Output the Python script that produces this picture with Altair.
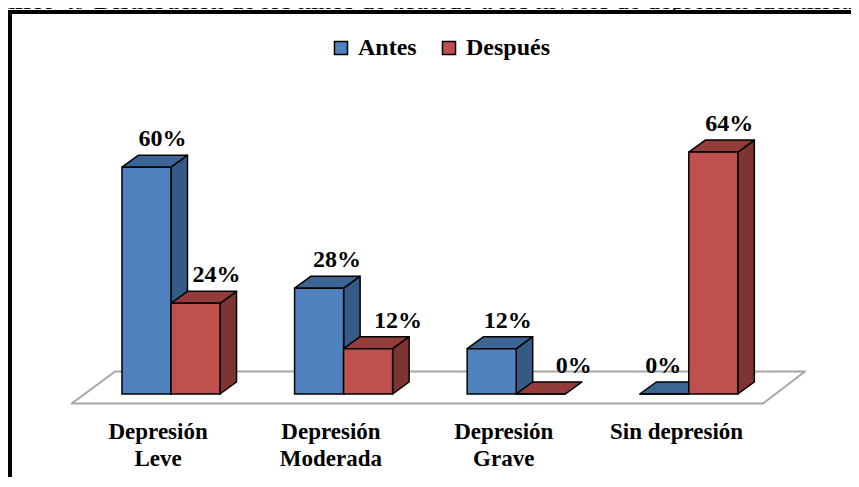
import altair as alt
import pandas as pd

# ---------------- data ----------------
categories = ["Depresión Leve", "Depresión Moderada", "Depresión Grave", "Sin depresión"]
tick_labels = ["Depresión\nLeve", "Depresión\nModerada", "Depresión\nGrave", "Sin depresión"]
series = ["Antes", "Después"]
antes = [60, 28, 12, 0]
despues = [24, 12, 0, 64]
caption_bold = "Gráfico 4."
caption_rest = " / Distribución de los niños de acuerdo a los niveles de depresión identificados"

# ---------------- style / layout ----------------
W, H = 843, 469
X_DOMAIN = [-0.9444, 3.9397]          # category units
Y_DOMAIN = [-21.96, 102.12]           # percent units
PX_PER_X = W / (X_DOMAIN[1] - X_DOMAIN[0])
BAR_W = 0.284
DEPTH_X = 0.0956
DEPTH_Y = 3.17
FLOOR_FRONT = (-0.5753, 3.4299, -2.51)
FLOOR_BACK = (-0.3244, 3.6732, 5.95)
CAT_LABEL_Y = -11.9
LABEL_DX = {"Antes": [16, 18, 16, -1], "Después": [21, 30, 33, 16]}

BLUE, BLUE_TOP, BLUE_SIDE = "#4F81BD", "#3C6595", "#355A84"
RED, RED_TOP, RED_SIDE = "#C0504D", "#933D3A", "#7D3432"
FONT = "Liberation Serif"

xs = alt.Scale(domain=X_DOMAIN, nice=False, zero=False)
ys = alt.Scale(domain=Y_DOMAIN, nice=False, zero=False)

values = {"Antes": antes, "Después": despues}
fronts, tops, sides = [], [], []
for i, cat in enumerate(categories):
    for s, name in enumerate(series):
        h = values[name][i]
        x0 = i - BAR_W + s * BAR_W
        x1 = x0 + BAR_W
        fronts.append(dict(cat=cat, series=name, x0=x0, x1=x1, base=0, h=h,
                           lx=(x0 + x1) / 2 + LABEL_DX[name][i] / PX_PER_X,
                           label=f"{h}%"))
        fid = f"{i}-{s}"
        for (xx, ya, yb) in [(x0, h, h), (x0 + DEPTH_X, h, h + DEPTH_Y),
                             (x1, h, h + DEPTH_Y), (x1 + DEPTH_X, h + DEPTH_Y, h + DEPTH_Y)]:
            tops.append(dict(face=fid, series=name, x=xx, y=ya, y2=yb))
        for (xx, ya, yb) in [(x1, 0, h), (x1 + DEPTH_X, DEPTH_Y, h + DEPTH_Y)]:
            sides.append(dict(face=fid, series=name, x=xx, y=ya, y2=yb))

fronts = pd.DataFrame(fronts)
tops = pd.DataFrame(tops)
sides = pd.DataFrame(sides)

fl, fr, fy = FLOOR_FRONT
bl, br, by = FLOOR_BACK
floor = pd.DataFrame(dict(face=["floor"] * 4, x=[fl, bl, fr, br],
                          y=[fy, fy, fy, by], y2=[fy, by, by, by]))

seg = (fr - fl) / len(categories)
cats = pd.DataFrame(dict(label=tick_labels,
                         x=[fl + (i + 0.5) * seg for i in range(len(categories))],
                         y=[CAT_LABEL_Y] * len(categories)))

one = pd.DataFrame({"a": [0]})


def poly_layer(df, fill, stroke, width):
    return alt.Chart(df).mark_area(
        orient="vertical", fill=fill, stroke=stroke, strokeWidth=width,
        strokeJoin="round", opacity=1, fillOpacity=1).encode(
        x=alt.X("x:Q", scale=xs, axis=None),
        y=alt.Y("y:Q", scale=ys, axis=None, stack=False),
        y2="y2:Q",
        detail="face:N")


floor_layer = poly_layer(floor, "white", "#A6A6A6", 2)

front_layer = alt.Chart(fronts).mark_rect(stroke="black", strokeWidth=1.5, opacity=1).encode(
    x=alt.X("x0:Q", scale=xs, axis=None), x2="x1:Q",
    y=alt.Y("base:Q", scale=ys, axis=None), y2="h:Q",
    color=alt.Color("series:N", scale=alt.Scale(domain=series, range=[BLUE, RED]),
                    legend=alt.Legend(title=None, orient="none", legendX=321, legendY=28,
                                      direction="horizontal", symbolType="square",
                                      symbolSize=170, symbolStrokeColor="black",
                                      symbolStrokeWidth=1.5, symbolOpacity=1,
                                      labelFont=FONT, labelFontSize=24, labelFontWeight="bold",
                                      labelColor="black", labelOffset=5, columnPadding=20,
                                      padding=0)))

value_layer = alt.Chart(fronts).mark_text(font=FONT, fontSize=24, fontWeight="bold",
                                          color="black", align="center",
                                          baseline="alphabetic", dy=-21).encode(
    x=alt.X("lx:Q", scale=xs, axis=None), y=alt.Y("h:Q", scale=ys, axis=None), text="label:N")

cat_layer = alt.Chart(cats).mark_text(font=FONT, fontSize=23, fontWeight="bold", color="black",
                                      align="center", baseline="alphabetic", lineBreak="\n",
                                      lineHeight=27).encode(
    x=alt.X("x:Q", scale=xs, axis=None), y=alt.Y("y:Q", scale=ys, axis=None), text="label:N")

frame_left = alt.Chart(one).mark_rule(color="black", strokeWidth=4).encode(
    x=alt.value(2), y=alt.value(4), y2=alt.value(H))
frame_top = alt.Chart(one).mark_rule(color="black", strokeWidth=4).encode(
    x=alt.value(0), x2=alt.value(W + 8), y=alt.value(4))

caption_a = alt.Chart(one).mark_text(text=caption_bold, font=FONT, fontSize=26, fontWeight="bold",
                                     color="black", align="left", baseline="alphabetic").encode(
    x=alt.value(-38), y=alt.value(1))
caption_b = alt.Chart(one).mark_text(text=caption_rest, font=FONT, fontSize=26, color="black",
                                     align="left", baseline="alphabetic").encode(
    x=alt.value(72), y=alt.value(1))

chart = alt.layer(
    floor_layer,
    poly_layer(sides[sides.series == "Antes"], BLUE_SIDE, "black", 1.5),
    poly_layer(tops[tops.series == "Antes"], BLUE_TOP, "black", 1.5),
    poly_layer(sides[sides.series == "Después"], RED_SIDE, "black", 1.5),
    poly_layer(tops[tops.series == "Después"], RED_TOP, "black", 1.5),
    front_layer,
    value_layer,
    cat_layer,
    caption_a,
    caption_b,
    frame_left,
    frame_top,
).properties(
    width=W, height=H, padding=0,
    autosize=alt.AutoSizeParams(type="none"),
    background="white",
).configure_view(stroke="transparent")

chart.save("out.html", embed_options={"renderer": "svg", "actions": False})
